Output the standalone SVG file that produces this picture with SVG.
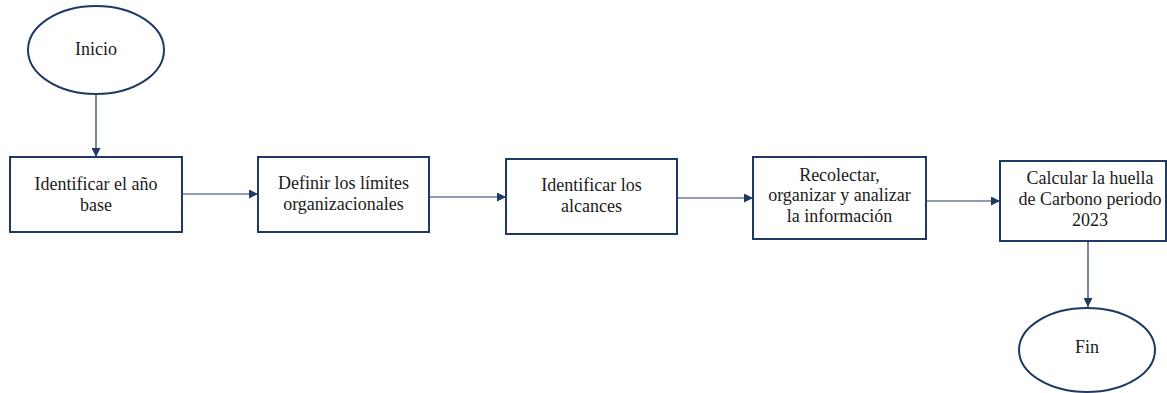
<svg xmlns="http://www.w3.org/2000/svg" width="1167" height="393" viewBox="0 0 1167 393">
  <style>
    .shape { fill: #ffffff; stroke: #1f3864; stroke-width: 2; }
    .label { font-family: "Liberation Serif", "Times New Roman", serif; font-size: 18px; fill: #1a1a1a; text-anchor: middle; }
    .conn { stroke: #1f3864; stroke-width: 1.2; fill: none; marker-end: url(#arrow); }
  </style>
  <defs>
    <marker id="arrow" viewBox="0 0 10 10" refX="10" refY="5" markerWidth="9" markerHeight="9" markerUnits="userSpaceOnUse" orient="auto">
      <path d="M0,0 L10,5 L0,10 Z" fill="#1f3864"/>
    </marker>
  </defs>

  <rect width="1167" height="393" fill="#ffffff"/>

  <g id="connectors">
    <line class="conn" x1="96" y1="94" x2="96" y2="157"/>
    <line class="conn" x1="182" y1="194" x2="258" y2="194"/>
    <line class="conn" x1="429" y1="197" x2="506" y2="197"/>
    <line class="conn" x1="677" y1="198" x2="753" y2="198"/>
    <line class="conn" x1="926" y1="201" x2="1000" y2="201"/>
    <line class="conn" x1="1088" y1="241" x2="1088" y2="307"/>
  </g>

  <g id="inicio">
    <ellipse class="shape" cx="96" cy="50" rx="68" ry="44"/>
    <text class="label" x="96" y="55">Inicio</text>
  </g>

  <g id="anio-base">
    <rect class="shape" x="10" y="157" width="172" height="75"/>
    <text class="label" x="96" y="190">Identificar el año</text>
    <text class="label" x="96" y="211">base</text>
  </g>

  <g id="limites">
    <rect class="shape" x="258" y="157" width="171" height="75"/>
    <text class="label" x="343.5" y="189">Definir los límites</text>
    <text class="label" x="343.5" y="210">organizacionales</text>
  </g>

  <g id="alcances">
    <rect class="shape" x="506" y="159" width="171" height="75"/>
    <text class="label" x="591.5" y="191">Identificar los</text>
    <text class="label" x="591.5" y="212">alcances</text>
  </g>

  <g id="informacion">
    <rect class="shape" x="753" y="157" width="173" height="82"/>
    <text class="label" x="839.5" y="181">Recolectar,</text>
    <text class="label" x="839.5" y="201">organizar y analizar</text>
    <text class="label" x="839.5" y="222">la información</text>
  </g>

  <g id="huella">
    <rect class="shape" x="1000" y="161" width="166" height="80"/>
    <text class="label" x="1090" y="184">Calcular la huella</text>
    <text class="label" x="1090" y="205">de Carbono periodo</text>
    <text class="label" x="1090" y="226">2023</text>
  </g>

  <g id="fin">
    <ellipse class="shape" cx="1087" cy="350" rx="68" ry="42"/>
    <text class="label" x="1087" y="353">Fin</text>
  </g>
</svg>
